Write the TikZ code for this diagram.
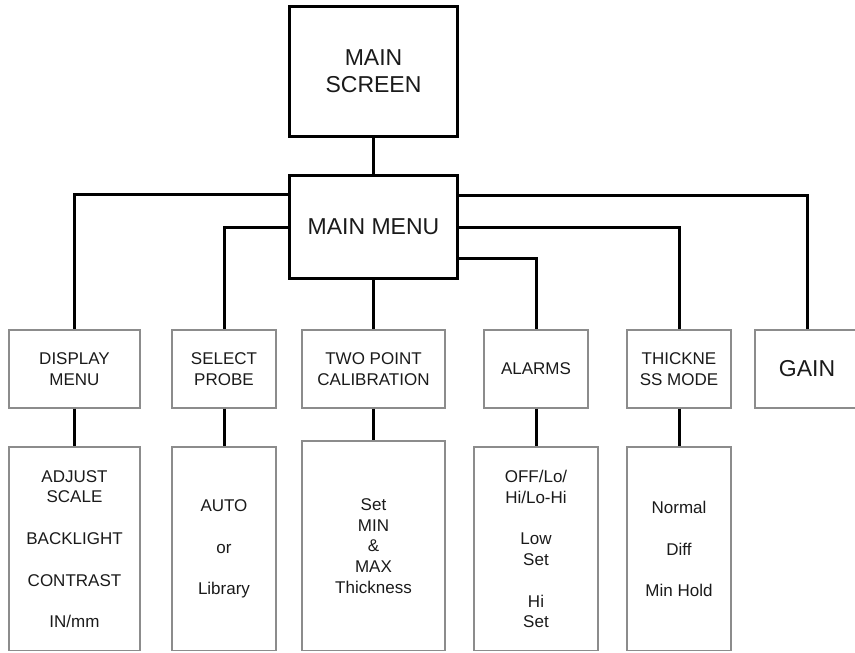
\documentclass[tikz,border=0pt]{standalone}
\usepackage{fontspec}
\setmainfont{Liberation Sans}
\usepackage{tikz}
\usepackage{xcolor}
\usetikzlibrary{positioning, calc}
\definecolor{cText}{HTML}{1A1A1A}
\definecolor{cBox} {HTML}{8C8C8C}
\definecolor{cLine}{HTML}{000000}

\begin{document}
\begin{tikzpicture}[x=1pt, y=-1pt,
    mainbox/.style={draw=cLine, line width=3pt, fill=white, align=center, text=cText,
                    font=\fontsize{23}{26.7}\selectfont, inner sep=0pt, minimum width=168},
    menubox/.style={draw=cBox, line width=1.1pt, align=center, text=cText,
                    font=\fontsize{17}{20.8}\selectfont, inner sep=0pt, minimum height=78},
    subbox/.style={menubox, minimum height=204},
    link/.style={draw=cLine, line width=3pt},
  ]
  \useasboundingbox (0,0) rectangle (855,653);
  \clip (0,0) rectangle (855,650);

  % top of the tree
  \node[mainbox, minimum height=130] (screen) at (373.5,71.5) {MAIN\\SCREEN};
  \node[mainbox, minimum height=103] (menu) at (373.5,227) {MAIN MENU};

  % second row: menu entries
  \foreach \nm/\cx/\w/\txt in {disp/74.5/131/{DISPLAY\\MENU}, probe/224/104/{SELECT\\PROBE},
      calib/373.5/143/{TWO POINT\\CALIBRATION}, alarm/536/104/{ALARMS},
      thick/679/104/{THICKNE\\SS MODE}}
    \node[menubox, minimum width=\w] (\nm) at (\cx,369) {\txt};
  \node[menubox, minimum width=104, font=\fontsize{23}{26.7}\selectfont] (gain) at (807,369) {GAIN};

  % third row: settings under each entry
  \node[subbox, minimum width=131] (disp-sub) at (74.5,549)
    {ADJUST\\SCALE\\[20.8pt]BACKLIGHT\\[20.8pt]CONTRAST\\[20.8pt]IN/mm};
  \node[subbox, minimum width=104] (probe-sub) at (224,549)
    {AUTO\\[20.8pt]or\\[20.8pt]Library};
  \node[subbox, minimum width=143, minimum height=210] (calib-sub) at (373.5,546)
    {Set\\MIN\\\&\\MAX\\Thickness};
  \node[subbox, minimum width=124] (alarm-sub) at (536,549)
    {OFF/Lo/\\Hi/Lo-Hi\\[20.8pt]Low\\Set\\[20.8pt]Hi\\Set};
  \node[subbox, minimum width=104] (thick-sub) at (679,549)
    {Normal\\[20.8pt]Diff\\[20.8pt]Min Hold};

  % connectors
  \draw[link] (screen.south) -- (menu.north);
  \draw[link] ([yshift=-20pt]menu.north west) -| (disp.north);
  \draw[link] ([yshift=-53pt]menu.north west) -| (probe.north);
  \draw[link] (menu.south) -- (calib.north);
  \draw[link] ([yshift=-84pt]menu.north east) -| (alarm.north);
  \draw[link] ([yshift=-53pt]menu.north east) -| (thick.north);
  \draw[link] ([yshift=-21pt]menu.north east) -| (gain.north);
  \foreach \nm in {disp, probe, calib, alarm, thick}
    \draw[link] (\nm.south) -- (\nm-sub.north);
\end{tikzpicture}
\end{document}
